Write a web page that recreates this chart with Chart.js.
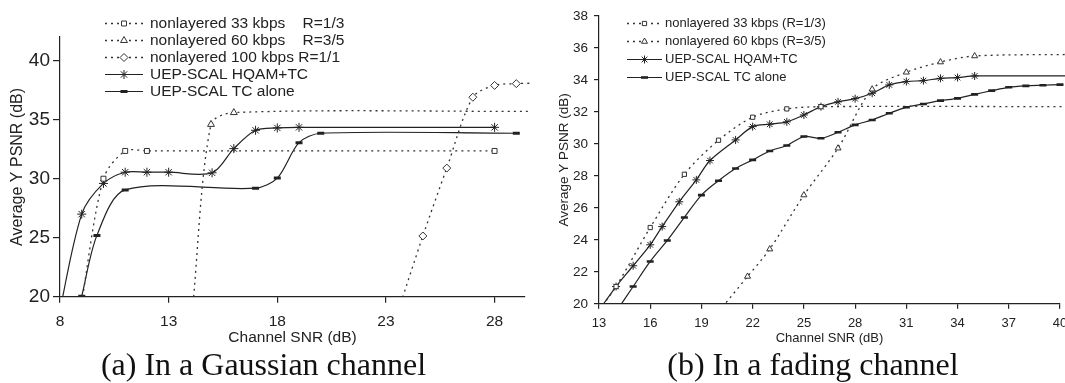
<!DOCTYPE html>
<html>
<head>
<meta charset="utf-8">
<script src="https://cdn.jsdelivr.net/npm/chart.js"></script>
<style>
  html, body { margin: 0; padding: 0; background: #fff; overflow: hidden; width: 1065px; height: 383px; }
  canvas { position: absolute; top: 0; }
  #gauss { left: 0; }
  #fading { left: 532px; }
</style>
</head>
<body>
<canvas id="gauss" width="532" height="383"></canvas>
<canvas id="fading" width="548" height="383"></canvas>
<script>
// (a) Gaussian channel
const gaussXTicks = [8, 13, 18, 23, 28];
const gaussYTicks = [20, 25, 30, 35, 40];
const gaussSnr33 = [8.95, 10, 11, 12, 28];
const gaussPsnr33 = [19, 30.0, 32.35, 32.35, 32.35];
const gaussSnr60 = [14.1, 14.95, 16, 30];
const gaussPsnr60 = [19, 34.6, 35.6, 35.7];
const gaussSnr100 = [23.6, 24.7, 25.8, 27, 28, 29, 30];
const gaussPsnr100 = [19, 25.15, 30.9, 36.9, 37.9, 38.05, 38.1];
const gaussSnrHqam = [7.9, 9, 10, 11, 12, 13, 15, 16, 17, 18, 19, 28];
const gaussPsnrHqam = [18, 27.0, 29.6, 30.55, 30.55, 30.55, 30.5, 32.55, 34.1, 34.3, 34.35, 34.35];
const gaussSnrTc = [9, 9.7, 11, 17, 18, 19, 20, 29];
const gaussPsnrTc = [20.05, 25.2, 29.05, 29.2, 30.05, 33.05, 33.85, 33.85];

// (b) fading channel
const fadeXTicks = [13, 16, 19, 22, 25, 28, 31, 34, 37, 40];
const fadeYTicks = [20, 22, 24, 26, 28, 30, 32, 34, 36, 38];
const fadeSnr33 = [13, 14, 16, 18, 20, 22, 24, 26, 41];
const fadePsnr33 = [19.6, 21.08, 24.77, 28.1, 30.23, 31.67, 32.19, 32.33, 32.33];
const fadeSnr60 = [20, 21.7, 23, 25, 27, 29, 31, 33, 35, 41];
const fadePsnr60 = [19.5, 21.71, 23.42, 26.8, 29.73, 33.42, 34.48, 35.12, 35.5, 35.6];
const fadeSnrHqam = [13, 14, 15, 16, 16.7, 17.7, 18.7, 19.5, 21, 22, 23, 24, 25, 26, 27, 28, 29, 30, 31, 32, 33, 34, 35, 41];
const fadePsnrHqam = [19.6, 21.08, 22.38, 23.69, 24.83, 26.38, 27.75, 28.96, 30.25, 31.08, 31.23, 31.38, 31.81, 32.33, 32.63, 32.83, 33.17, 33.69, 33.9, 33.96, 34.1, 34.15, 34.25, 34.25];
const fadeSnrTc = [14, 15, 16, 17, 18, 19, 20, 21, 22, 23, 24, 25, 26, 27, 28, 29, 30, 31, 32, 33, 34, 35, 36, 37, 38, 39, 40];
const fadePsnrTc = [19.5, 21.08, 22.65, 23.96, 25.4, 26.8, 27.7, 28.46, 29.0, 29.56, 29.9, 30.46, 30.35, 30.73, 31.19, 31.5, 31.92, 32.29, 32.5, 32.71, 32.85, 33.1, 33.33, 33.54, 33.63, 33.67, 33.71];

const SANS = "'Liberation Sans', Arial, sans-serif";
const SERIF = "'Liberation Serif', 'Times New Roman', serif";
const INK = '#222';

const pts = (xs, ys) => xs.map((x, i) => ({ x, y: ys[i] }));

function dotted(label, data, pointStyle, r) {
  return {
    label, data, pointStyle,
    borderColor: '#333', borderWidth: 1.3, borderDash: [2, 4],
    pointRadius: r, pointBackgroundColor: '#fff', pointBorderColor: '#333', pointBorderWidth: 1
  };
}

function solid(label, data, pointStyle, r, pw) {
  return {
    label, data, pointStyle,
    borderColor: INK, borderWidth: 1.2, borderDash: [],
    pointRadius: r, pointBackgroundColor: '#fff', pointBorderColor: INK, pointBorderWidth: pw
  };
}

// legend drawn inside the plot, Excel style: line sample with marker in the middle
const sampleLegend = {
  id: 'sampleLegend',
  afterDraw(chart, args, opts) {
    const ctx = chart.ctx;
    ctx.save();
    ctx.font = opts.font;
    ctx.textBaseline = 'middle';
    chart.data.datasets.forEach((ds, i) => {
      const y = opts.top + i * opts.rowHeight;
      ctx.save();
      ctx.strokeStyle = ds.borderColor;
      ctx.lineWidth = ds.borderWidth;
      ctx.setLineDash(ds.borderDash);
      ctx.beginPath();
      ctx.moveTo(opts.lineStart, y);
      ctx.lineTo(opts.lineEnd, y);
      ctx.stroke();
      ctx.setLineDash([]);
      ctx.strokeStyle = ds.pointBorderColor;
      ctx.fillStyle = ds.pointBackgroundColor;
      ctx.lineWidth = ds.pointBorderWidth;
      Chart.helpers.drawPoint(ctx, {
        pointStyle: ds.pointStyle, radius: ds.pointRadius, rotation: 0, borderWidth: ds.pointBorderWidth
      }, (opts.lineStart + opts.lineEnd) / 2, y);
      ctx.restore();
      ctx.fillStyle = INK;
      ctx.fillText(ds.label, opts.textX, y);
    });
    ctx.restore();
  }
};

function axis(min, max, tickValues, o) {
  return {
    type: 'linear', min, max,
    afterBuildTicks: s => { s.ticks = tickValues.map(v => ({ value: v })); },
    afterFit: s => { if (o.width) s.width = o.width; if (o.height) s.height = o.height; },
    border: { display: true, color: INK, width: 1.2 },
    grid: { display: true, drawOnChartArea: false, drawTicks: true, tickLength: o.tickLength, color: INK, lineWidth: 1.2 },
    ticks: { font: { family: SANS, size: o.tickSize }, color: INK, padding: o.tickPad, maxRotation: 0, autoSkip: false },
    title: { display: true, text: o.title, color: INK, font: { family: SANS, size: o.titleSize }, padding: o.titlePad }
  };
}

const gaussChart = new Chart(document.getElementById('gauss'), {
  type: 'line',
  data: {
    datasets: [
      dotted('nonlayered 33 kbps    R=1/3', pts(gaussSnr33, gaussPsnr33), 'rect', 3.5),
      dotted('nonlayered 60 kbps    R=3/5', pts(gaussSnr60, gaussPsnr60), 'triangle', 4),
      dotted('nonlayered 100 kbps R=1/1', pts(gaussSnr100, gaussPsnr100), 'rectRot', 4),
      solid('UEP-SCAL HQAM+TC', pts(gaussSnrHqam, gaussPsnrHqam), 'star', 4.5, 1),
      solid('UEP-SCAL TC alone', pts(gaussSnrTc, gaussPsnrTc), 'line', 3.5, 3)
    ]
  },
  options: {
    responsive: false,
    animation: false,
    events: [],
    layout: { padding: { left: 0, right: 5, top: 37, bottom: 0 } },
    elements: { line: { tension: 0.3 } },
    datasets: { line: { clip: { left: 0, top: 5, right: 5, bottom: 0 } } },
    scales: {
      x: axis(8, 29.4, gaussXTicks, { height: 50, tickLength: 6, tickSize: 15.5, tickPad: 10, title: 'Channel SNR (dB)', titleSize: 15.5, titlePad: { top: 0, bottom: 0 } }),
      y: axis(20, 42, gaussYTicks, { width: 60, tickLength: 7, tickSize: 19, tickPad: 3, title: 'Average Y PSNR (dB)', titleSize: 16, titlePad: { top: 8.4, bottom: 0 } })
    },
    plugins: {
      legend: { display: false },
      tooltip: { enabled: false },
      title: {
        display: true, position: 'bottom', text: '(a) In a Gaussian channel', color: '#111',
        font: { family: SERIF, size: 32, weight: 'normal', lineHeight: 1 },
        padding: { top: 4.2, bottom: 0 }
      },
      sampleLegend: { font: `15.5px ${SANS}`, top: 23.5, rowHeight: 17, lineStart: 105, lineEnd: 143, textX: 150 }
    }
  },
  plugins: [sampleLegend]
});

const fadeChart = new Chart(document.getElementById('fading'), {
  type: 'line',
  data: {
    datasets: [
      dotted('nonlayered 33 kbps (R=1/3)', pts(fadeSnr33, fadePsnr33), 'rect', 3),
      dotted('nonlayered 60 kbps (R=3/5)', pts(fadeSnr60, fadePsnr60), 'triangle', 3.5),
      solid('UEP-SCAL HQAM+TC', pts(fadeSnrHqam, fadePsnrHqam), 'star', 4, 1),
      solid('UEP-SCAL TC alone', pts(fadeSnrTc, fadePsnrTc), 'line', 3.5, 2.6)
    ]
  },
  options: {
    responsive: false,
    animation: false,
    events: [],
    layout: { padding: { left: 34, right: 20, top: 16, bottom: 0 } },
    elements: { line: { tension: 0.3 } },
    datasets: { line: { clip: { left: 0, top: 5, right: 5, bottom: 0 } } },
    scales: {
      x: axis(13, 40, fadeXTicks, { height: 42, tickLength: 5, tickSize: 13, tickPad: 6.4, title: 'Channel SNR (dB)', titleSize: 13, titlePad: { top: 0, bottom: 0 } }),
      y: axis(20, 38, fadeYTicks, { width: 33, tickLength: 5, tickSize: 13.5, tickPad: 6, title: 'Average Y PSNR (dB)', titleSize: 13.5, titlePad: { top: -10.1, bottom: 0 } })
    },
    plugins: {
      legend: { display: false },
      tooltip: { enabled: false },
      title: {
        display: true, position: 'bottom', text: '(b) In a fading channel', color: '#111',
        font: { family: SERIF, size: 32, weight: 'normal', lineHeight: 1 },
        padding: { top: 5.2, bottom: 0 }
      },
      sampleLegend: { font: `13px ${SANS}`, top: 23.5, rowHeight: 18, lineStart: 95, lineEnd: 130, textX: 133 }
    }
  },
  plugins: [sampleLegend]
});
</script>
</body>
</html>
